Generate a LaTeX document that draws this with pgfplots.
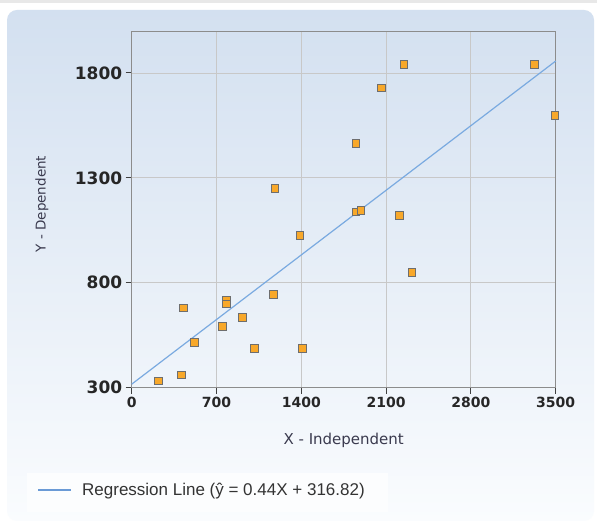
\documentclass[border=0pt]{standalone}
\usepackage{pgfplots}
\pgfplotsset{compat=1.18}
\usepackage{fontspec}
\setmainfont{DejaVu Sans}
\newfontfamily\lib{Liberation Sans}
\definecolor{panelTop}{HTML}{D3E0F0}
\definecolor{panelBot}{HTML}{FAFCFE}
\definecolor{markfill}{HTML}{F8A82A}
\definecolor{markdraw}{HTML}{6E6E6E}
\definecolor{regline}{HTML}{7AAAE0}
\definecolor{legline}{HTML}{6A9AD6}
\definecolor{gridc}{HTML}{C8C8C8}
\definecolor{labc}{HTML}{3A3A4E}
\begin{document}
\begin{tikzpicture}
\useasboundingbox (0pt,0pt) rectangle (597pt,524pt);
\fill[white] (0pt,0pt) rectangle (597pt,524pt);
\fill[black!9] (0pt,521pt) rectangle (597pt,524pt);
\shade[top color=panelTop, bottom color=panelBot, rounded corners=10pt] (7pt,3pt) rectangle (594pt,514pt);
\fill[white!40!panelBot] (27pt,12pt) rectangle (388pt,51pt);
\begin{axis}[
  at={(131.7pt,136.3pt)}, anchor=south west,
  scale only axis, width=424pt, height=356.7pt,
  xmin=0, xmax=3500, ymin=300, ymax=2000,
  xtick={0,700,1400,2100,2800,3500},
  ytick={300,800,1300,1800},
  grid=major,
  major grid style={gridc, line width=0.9pt},
  axis line style={draw=black!45, line width=0.9pt},
  tick align=outside, tick pos=left,
  major tick length=6pt,
  every tick/.style={black!75, line width=1pt},
  /pgf/number format/assume math mode=true,
  /pgf/number format/1000 sep={},
  yticklabel style={font=\bfseries\fontsize{17}{20}\selectfont, text=black!85},
  xticklabel style={font=\bfseries\fontsize{14}{17}\selectfont, text=black!85},
  xlabel={X - Independent}, ylabel={Y - Dependent},
  xlabel style={at={(rel axis cs:0.5,-0.149)}, anchor=center, font=\fontsize{15}{18}\selectfont, text=labc},
  ylabel style={at={(rel axis cs:-0.2116,0.515)}, anchor=center, font=\fontsize{13.5}{16}\selectfont, text=labc},
  clip=false,
  legend style={at={(-0.247,-0.239)}, anchor=north west, draw=none, fill=none,
    font=\lib\fontsize{17}{20}\selectfont, text=black!80, inner xsep=10pt, inner ysep=8pt,
    /tikz/every odd column/.append style={column sep=8pt}},
  legend image code/.code={\draw[legline, line width=2pt] (0pt,0pt) -- (33pt,0pt);},
]
\addplot[only marks, mark=square*, mark size=3.8pt, mark options={fill=markfill, draw=markdraw, line width=1pt}, forget plot] coordinates {
(223,332) (413,360) (427,679) (517,516) (749,591) (784,717) (784,699)
(914,634) (1015,486) (1170,745) (1183,1248) (1390,1025) (1412,486)
(1852,1463) (1852,1137) (1893,1145) (2061,1728) (2212,1122) (2248,1840)
(2314,849) (3327,1840) (3495,1596)
};
\addplot[regline, line width=1.2pt] coordinates {(0,316.82) (3500,1856.82)};
\addlegendentry{Regression Line (ŷ = 0.44X + 316.82)}
\end{axis}
\end{tikzpicture}
\end{document}
